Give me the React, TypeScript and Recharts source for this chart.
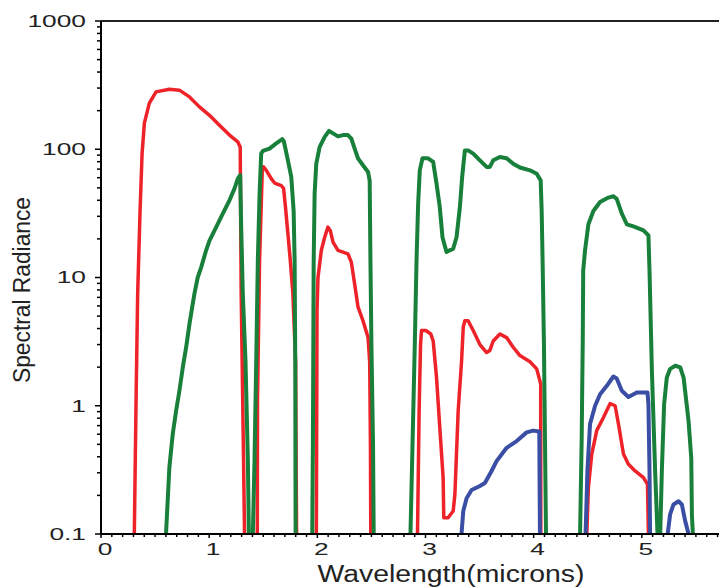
import React from "react";
import { LineChart, Line, XAxis, YAxis, ReferenceLine } from "recharts";

type Pt = [number, number];

// wavelength (microns) vs spectral radiance
const red1: Pt[] = [
  [0.308, 0.1], [0.325, 1.24], [0.339, 7.5], [0.361, 33], [0.38, 93], [0.401, 160], [0.447, 229],
  [0.509, 280], [0.632, 294], [0.725, 289], [0.818, 256], [0.91, 214], [1.003, 184], [1.095, 154],
  [1.188, 129], [1.265, 114], [1.287, 104], [1.296, 7.5], [1.318, 0.37], [1.327, 0.1],
];
const red2: Pt[] = [
  [1.445, 0.1], [1.447, 1.1], [1.466, 13.6], [1.491, 68.5], [1.503, 72.8], [1.528, 68.5], [1.574, 59],
  [1.605, 54.5], [1.667, 52], [1.688, 49.6], [1.706, 35], [1.728, 22], [1.75, 13.6], [1.774, 7.5],
  [1.799, 2.2], [1.808, 0.1],
];
const red3: Pt[] = [
  [1.991, 0.1], [1.997, 5.5], [2.006, 10], [2.037, 16.3], [2.068, 20.6], [2.098, 24.7], [2.12, 23.2],
  [2.145, 18.9], [2.191, 16.3], [2.283, 15.3], [2.314, 13.2], [2.345, 8.9], [2.376, 5.9], [2.422, 4.6],
  [2.469, 3.4], [2.484, 2.2], [2.491, 0.5], [2.494, 0.1],
];
const red4: Pt[] = [
  [2.926, 0.1], [2.941, 0.91], [2.954, 3.0], [2.963, 3.86], [3.003, 3.86], [3.049, 3.63], [3.071, 3.2],
  [3.102, 1.66], [3.132, 0.68], [3.163, 0.275], [3.169, 0.134], [3.209, 0.134], [3.256, 0.151],
  [3.272, 0.205], [3.302, 0.91], [3.333, 2.2], [3.349, 4.1], [3.364, 4.6], [3.394, 4.6], [3.441, 3.86],
  [3.503, 3.0], [3.565, 2.6], [3.595, 2.7], [3.626, 3.2], [3.688, 3.63], [3.75, 3.4], [3.811, 2.86],
  [3.873, 2.46], [3.966, 2.2], [4.028, 1.94], [4.065, 1.48], [4.066, 0.1],
];
const red5: Pt[] = [
  [4.491, 0.1], [4.506, 0.23], [4.537, 0.42], [4.583, 0.64], [4.645, 0.81], [4.707, 1.04], [4.753, 1.0],
  [4.784, 0.72], [4.83, 0.42], [4.876, 0.35], [4.938, 0.31], [5.015, 0.275], [5.052, 0.245], [5.061, 0.1],
];

const green1: Pt[] = [
  [0.601, 0.1], [0.632, 0.33], [0.663, 0.6], [0.694, 0.91], [0.725, 1.31], [0.756, 1.99], [0.787, 2.85],
  [0.818, 4.35], [0.833, 5.2], [0.864, 7.5], [0.894, 10], [0.926, 12], [0.972, 16.3], [1.003, 19.4],
  [1.065, 24.7], [1.126, 31.5], [1.188, 40], [1.234, 49.3], [1.265, 59], [1.287, 62.7], [1.296, 24.7],
  [1.311, 7.5], [1.336, 2.2], [1.358, 0.37], [1.367, 0.1],
];
const green2: Pt[] = [
  [1.404, 0.1], [1.419, 0.37], [1.435, 2.2], [1.45, 13.6], [1.466, 45], [1.481, 92.5], [1.497, 97],
  [1.558, 101], [1.62, 111], [1.676, 120], [1.691, 115], [1.728, 82], [1.759, 61], [1.781, 33],
  [1.79, 13.6], [1.796, 2.2], [1.799, 0.1],
];
const green3: Pt[] = [
  [1.953, 0.1], [1.959, 0.5], [1.966, 12.8], [1.975, 45], [1.99, 77], [2.021, 104], [2.068, 125],
  [2.108, 139], [2.145, 133], [2.191, 126], [2.237, 129], [2.283, 129], [2.314, 121], [2.345, 101],
  [2.376, 85], [2.422, 75], [2.469, 66.5], [2.484, 57], [2.491, 13.6], [2.5, 3.0], [2.515, 0.5], [2.521, 0.1],
];
const green4: Pt[] = [
  [2.861, 0.1], [2.88, 0.5], [2.901, 3.0], [2.917, 13.6], [2.932, 37.6], [2.947, 68.5], [2.972, 85],
  [3.024, 85], [3.071, 79.6], [3.102, 54], [3.132, 35.4], [3.157, 20.6], [3.194, 15.8], [3.256, 16.8],
  [3.287, 20.6], [3.318, 35.4], [3.339, 61], [3.364, 98], [3.394, 98], [3.441, 92.5], [3.503, 82],
  [3.565, 72.8], [3.595, 72.8], [3.626, 82], [3.688, 87], [3.75, 85], [3.811, 77], [3.873, 72],
  [3.966, 68.5], [4.028, 64.5], [4.065, 57], [4.074, 33], [4.083, 12.8], [4.095, 3.0], [4.105, 0.5], [4.114, 0.1],
];
const green5: Pt[] = [
  [4.429, 0.1], [4.444, 0.56], [4.454, 3.4], [4.458, 11.3], [4.475, 16.3], [4.506, 26], [4.552, 33],
  [4.614, 38.8], [4.691, 42], [4.737, 43], [4.768, 41], [4.815, 31.5], [4.861, 26], [4.922, 25],
  [5.015, 23.3], [5.061, 21.3], [5.071, 11.3], [5.093, 1.87], [5.123, 0.31], [5.145, 0.1],
];
const green6: Pt[] = [
  [5.17, 0.1], [5.185, 0.31], [5.206, 1.03], [5.231, 1.66], [5.262, 1.94], [5.309, 2.05], [5.355, 1.99],
  [5.386, 1.66], [5.432, 0.76], [5.457, 0.39], [5.463, 0.14], [5.472, 0.1],
];

const blue1: Pt[] = [
  [3.333, 0.1], [3.349, 0.151], [3.38, 0.19], [3.426, 0.22], [3.503, 0.237], [3.549, 0.25], [3.611, 0.31],
  [3.657, 0.37], [3.75, 0.47], [3.843, 0.53], [3.935, 0.62], [3.996, 0.64], [4.052, 0.63], [4.058, 0.1],
];
const blue2: Pt[] = [
  [4.48, 0.1], [4.497, 0.31], [4.521, 0.72], [4.568, 1.0], [4.614, 1.23], [4.676, 1.43], [4.737, 1.69],
  [4.768, 1.63], [4.815, 1.31], [4.876, 1.17], [4.954, 1.27], [5.052, 1.27], [5.061, 1.03], [5.071, 0.31],
  [5.076, 0.1],
];
const blue3: Pt[] = [
  [5.239, 0.1], [5.262, 0.143], [5.293, 0.17], [5.339, 0.18], [5.37, 0.17], [5.401, 0.126], [5.432, 0.1],
];

const Y_MAJOR = [0.1, 1, 10, 100, 1000];
const Y_LABELS = ["0.1", "1", "10", "100", "1000"];
const Y_MINOR = [
  0.2, 0.3, 0.4, 0.5, 0.6, 0.7, 0.8, 0.9,
  2, 3, 4, 5, 6, 7, 8, 9,
  20, 30, 40, 50, 60, 70, 80, 90,
  200, 300, 400, 500, 600, 700, 800, 900,
];
const X_LABELS = [0, 1, 2, 3, 4, 5];
const X_TICKS = Array.from({ length: 61 }, (_, i) => Math.round(i) / 10);

const RED = "#EE2229";
const GREEN = "#18803A";
const BLUE = "#3A4EA4";
const TEXT = "#222";

// segments are separated by a null point so the line breaks
const joinSegments = (segs: Pt[][]) =>
  segs.flatMap((s, i) => [
    ...(i > 0 ? [{ x: s[0][0], y: null as number | null }] : []),
    ...s.map(([x, y]) => ({ x, y: y as number | null })),
  ]);

const redData = joinSegments([red1, red2, red3, red4, red5]);
const greenData = joinSegments([green1, green2, green3, green4, green5, green6]);
const blueData = joinSegments([blue1, blue2, blue3]);

const YTick = (props: any) => {
  const { x, y, payload } = props;
  const idx = Y_MAJOR.findIndex((v) => Math.abs(v - payload.value) < 1e-9);
  const major = idx >= 0;
  return (
    <g>
      <line x1={x - (major ? 6 : 4)} x2={x} y1={y} y2={y} stroke="#000" strokeWidth={1.5} />
      {major && (
        <text
          transform={`translate(${x - 15}, ${y}) scale(1.55, 1)`}
          textAnchor="end"
          dominantBaseline="central"
          fontFamily="'Liberation Sans', Arial, sans-serif"
          fontSize={17}
          fill={TEXT}
        >
          {Y_LABELS[idx]}
        </text>
      )}
    </g>
  );
};

const XTick = (props: any) => {
  const { x, y, payload } = props;
  const v = payload.value;
  const major = X_LABELS.some((l) => Math.abs(l - v) < 1e-9);
  return (
    <g>
      <line x1={x} x2={x} y1={y} y2={y + (major ? 4 : 3)} stroke="#000" strokeWidth={1.5} />
      {major && (
        <text
          transform={`translate(${x + 4}, ${y + 15}) scale(1.55, 1)`}
          textAnchor="middle"
          dominantBaseline="central"
          fontFamily="'Liberation Sans', Arial, sans-serif"
          fontSize={17}
          fill={TEXT}
        >
          {String(Math.round(v))}
        </text>
      )}
    </g>
  );
};

const App: React.FC = () => {
  return (
    <div style={{ width: 719, height: 579, overflow: "hidden" }}>
      <LineChart width={742} height={579} margin={{ top: 13, right: 0, left: 0, bottom: 0 }}>
        <XAxis
          type="number"
          dataKey="x"
          domain={[0, 6]}
          allowDataOverflow
          ticks={X_TICKS}
          interval={0}
          tickLine={false}
          tickSize={0}
          tickMargin={0}
          tick={<XTick />}
          height={53}
          axisLine={{ stroke: "#000", strokeWidth: 2 }}
          label={{
            content: (p: any) => (
              <text
                x={p.viewBox.x + 350}
                y={p.viewBox.y + 48}
                textAnchor="middle"
                fontFamily="'Liberation Sans', Arial, sans-serif"
                fontSize={23}
                textLength={267}
                lengthAdjust="spacingAndGlyphs"
                fill={TEXT}
              >
                Wavelength(microns)
              </text>
            ),
          }}
        />
        <YAxis
          type="number"
          scale="log"
          domain={[0.1, 1000]}
          allowDataOverflow
          ticks={[...Y_MAJOR, ...Y_MINOR].sort((a, b) => a - b)}
          interval={0}
          tickLine={false}
          tickSize={0}
          tickMargin={0}
          tick={<YTick />}
          width={93}
          axisLine={{ stroke: "#000", strokeWidth: 2 }}
          label={{
            content: (p: any) => (
              <text
                transform={`translate(22, ${p.viewBox.y + 269}) rotate(-90)`}
                textAnchor="middle"
                fontFamily="'Liberation Sans', Arial, sans-serif"
                fontSize={23}
                textLength={186}
                lengthAdjust="spacingAndGlyphs"
                fill={TEXT}
              >
                Spectral  Radiance
              </text>
            ),
          }}
        />
        <ReferenceLine y={1000} stroke="#222" strokeWidth={2} />
        <Line
          data={redData}
          dataKey="y"
          type="linear"
          stroke={RED}
          strokeWidth={3.5}
          strokeLinejoin="round"
          dot={false}
          connectNulls={false}
          isAnimationActive={false}
        />
        <Line
          data={blueData}
          dataKey="y"
          type="linear"
          stroke={BLUE}
          strokeWidth={4}
          strokeLinejoin="round"
          dot={false}
          connectNulls={false}
          isAnimationActive={false}
        />
        <Line
          data={greenData}
          dataKey="y"
          type="linear"
          stroke={GREEN}
          strokeWidth={4}
          strokeLinejoin="round"
          dot={false}
          connectNulls={false}
          isAnimationActive={false}
        />
      </LineChart>
    </div>
  );
};

export default App;
